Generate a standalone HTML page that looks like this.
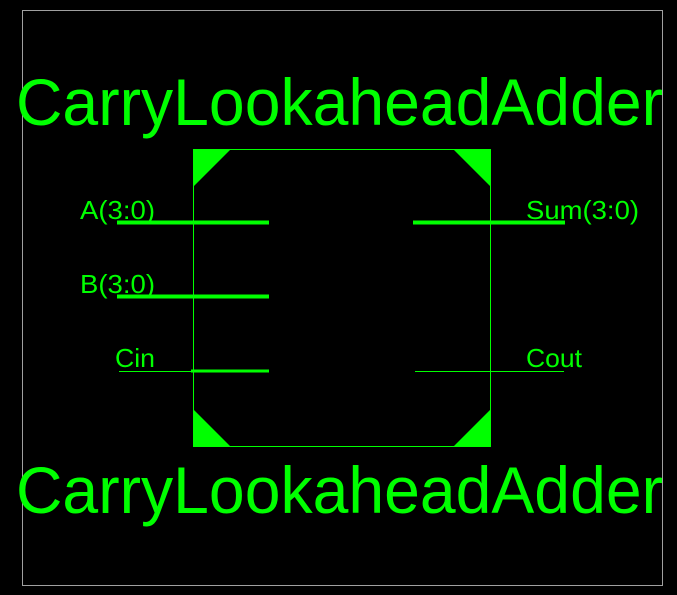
<!DOCTYPE html>
<html><head><style>body{margin:0;background:#000}</style></head><body>
<svg width="677" height="595" xmlns="http://www.w3.org/2000/svg" style="display:block">
<rect width="677" height="595" fill="#000"/>
<rect x="22.5" y="10.5" width="640" height="575" fill="none" stroke="#a0a0a0" stroke-width="1"/>
<g font-family="Liberation Sans, sans-serif" fill="#00ff00">
<text x="16" y="125" font-size="66" textLength="647" lengthAdjust="spacingAndGlyphs">CarryLookaheadAdder</text>
<text x="16" y="513" font-size="66" textLength="647" lengthAdjust="spacingAndGlyphs">CarryLookaheadAdder</text>
<text x="80" y="219" font-size="26" textLength="75" lengthAdjust="spacingAndGlyphs">A(3:0)</text>
<text x="80" y="293" font-size="26" textLength="75" lengthAdjust="spacingAndGlyphs">B(3:0)</text>
<text x="115" y="367" font-size="26" textLength="40" lengthAdjust="spacingAndGlyphs">Cin</text>
<text x="526" y="219" font-size="26" textLength="113" lengthAdjust="spacingAndGlyphs">Sum(3:0)</text>
<text x="526" y="367" font-size="26" textLength="56" lengthAdjust="spacingAndGlyphs">Cout</text>
</g>
<rect x="193.5" y="149.5" width="297" height="297" fill="none" stroke="#00ff00" stroke-width="1"/>
<polygon points="193,149 231,149 193,187" fill="#00ff00"/>
<polygon points="453,149 491,149 491,187" fill="#00ff00"/>
<polygon points="193,409 193,447 231,447" fill="#00ff00"/>
<polygon points="491,409 491,447 453,447" fill="#00ff00"/>
<g stroke="#00ff00">
<line x1="117" y1="222.5" x2="269" y2="222.5" stroke-width="4"/>
<line x1="117" y1="296.5" x2="269" y2="296.5" stroke-width="4"/>
<line x1="119" y1="371.5" x2="193" y2="371.5" stroke-width="1"/>
<line x1="191" y1="371" x2="269" y2="371" stroke-width="3"/>
<line x1="413" y1="222.5" x2="565" y2="222.5" stroke-width="4"/>
<line x1="415" y1="371.5" x2="564" y2="371.5" stroke-width="1"/>
</g>
</svg>
</body></html>
